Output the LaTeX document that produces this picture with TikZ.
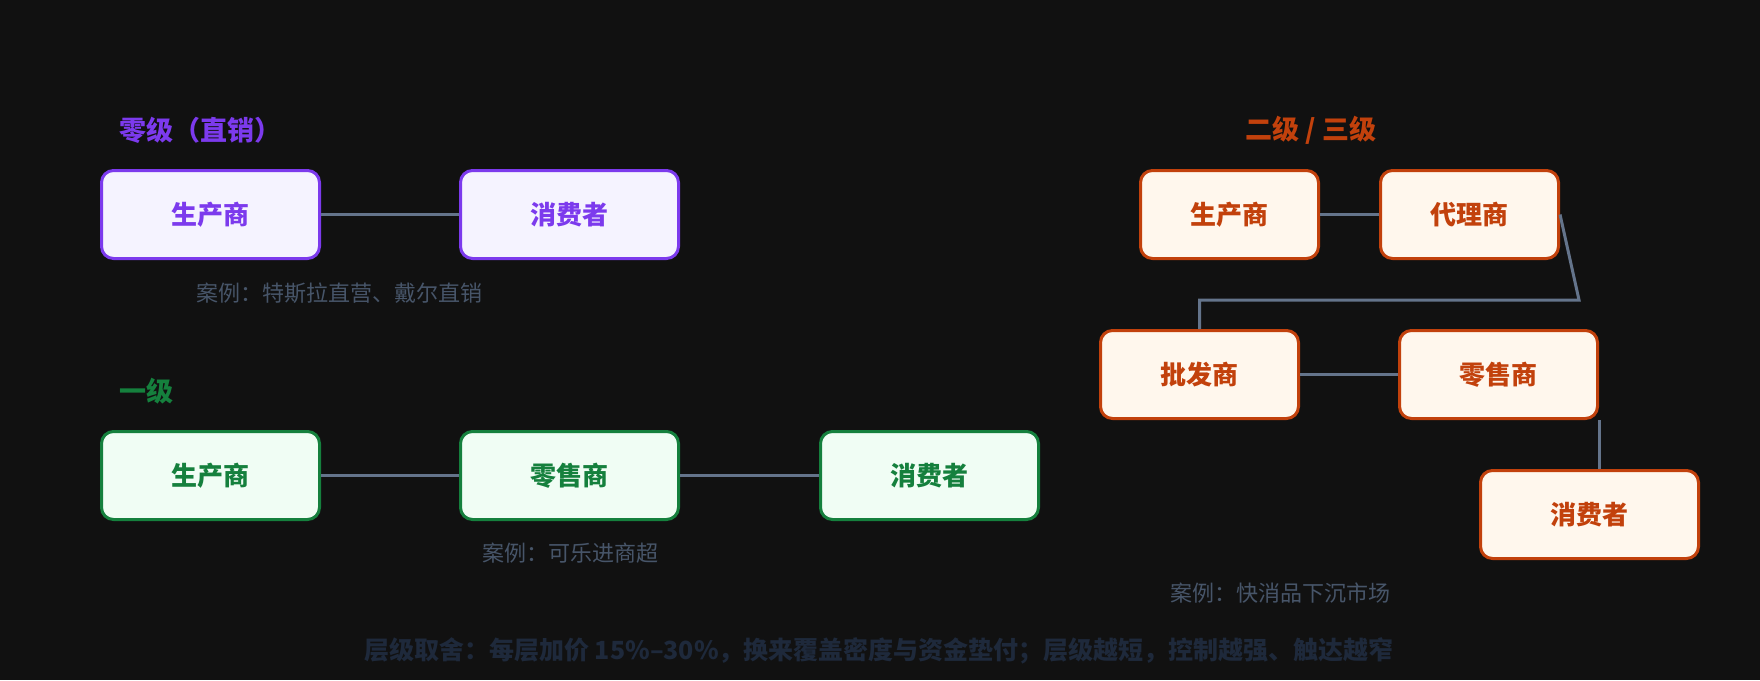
\documentclass[tikz,border=0pt]{standalone}
\usepackage{fontspec}
\setmainfont{Noto Sans CJK SC}
\usepackage{tikz}
\usetikzlibrary{positioning}
\definecolor{bg}{HTML}{111111}
\definecolor{purp}{HTML}{7C3AED}
\definecolor{purpfill}{HTML}{F5F3FF}
\definecolor{grn}{HTML}{15803D}
\definecolor{grnfill}{HTML}{F0FDF4}
\definecolor{org}{HTML}{C2410C}
\definecolor{orgfill}{HTML}{FFF7ED}
\definecolor{link}{HTML}{64748B}
\definecolor{note}{HTML}{475569}
\definecolor{foot}{HTML}{1E293B}
\begin{document}
\begin{tikzpicture}[x=1pt, y=-1pt,
    box/.style={rectangle, draw, rounded corners=12pt, line width=3pt, minimum height=88pt, font=\fontsize{26}{30}\selectfont\bfseries, align=center},
    lvlA/.style={box, draw=purp, fill=purpfill, text=purp, minimum width=218pt},
    lvlB/.style={box, draw=grn, fill=grnfill, text=grn, minimum width=218pt},
    lvlC/.style={box, draw=org, fill=orgfill, text=org},
    title/.style={font=\fontsize{27}{31}\selectfont\bfseries, anchor=west},
    case/.style={text=note, font=\fontsize{22}{26}\selectfont},
    link/.style={draw=link, line width=3pt}
]
    \fill[bg] (0,0) rectangle (1760,680);
    \useasboundingbox (0,0) rectangle (1760,680);

    % Zero level
    \node[title, text=purp] (t0) at (116,130) {零级（直销）};
    \node[lvlA] (a1) at (210.5,214.5) {生产商};
    \node[lvlA] (a2) at (569.5,214.5) {消费者};
    \node[case] (c0) at (339,293) {案例：特斯拉直营、戴尔直销};
    \draw[link] (a1) -- (a2);

    % One level
    \node[title, text=grn] (t1) at (116,391) {一级};
    \node[lvlB] (b1) at (210.5,475.5) {生产商};
    \node[lvlB] (b2) at (569.5,475.5) {零售商};
    \node[lvlB] (b3) at (929.5,475.5) {消费者};
    \node[case] (c1) at (570,553) {案例：可乐进商超};
    \draw[link] (b1) -- (b2);
    \draw[link] (b2) -- (b3);

    % Two / three levels
    \node[title, text=org, anchor=center] (t2) at (1311,130) {二级 / 三级};
    \node[lvlC, minimum width=178pt] (d1) at (1229.5,214.5) {生产商};
    \node[lvlC, minimum width=178pt] (d2) at (1469.5,214.5) {代理商};
    \node[lvlC, minimum width=198pt] (d3) at (1199.5,374.5) {批发商};
    \node[lvlC, minimum width=198pt] (d4) at (1498.5,374.5) {零售商};
    \node[lvlC, minimum width=218pt] (d5) at (1589.5,514.5) {消费者};
    \node[case] (c2) at (1280,593) {案例：快消品下沉市场};
    \coordinate (k1) at (1579,300);
    \coordinate (k2) at (1199.5,300);
    \draw[link] (d1) -- (d2);
    \draw[link] (d2.east) -- (k1) -- (k2) -- (d3.north);
    \draw[link] (d3) -- (d4);
    \draw[link] (d4.south east) -- (d4.south east |- d5.north);

    % Footer
    \node[text=foot, font=\fontsize{25}{29}\selectfont\bfseries] (ft) at (879,651) {层级取舍：每层加价 15\%–30\%，换来覆盖密度与资金垫付；层级越短，控制越强、触达越窄};
\end{tikzpicture}
\end{document}
